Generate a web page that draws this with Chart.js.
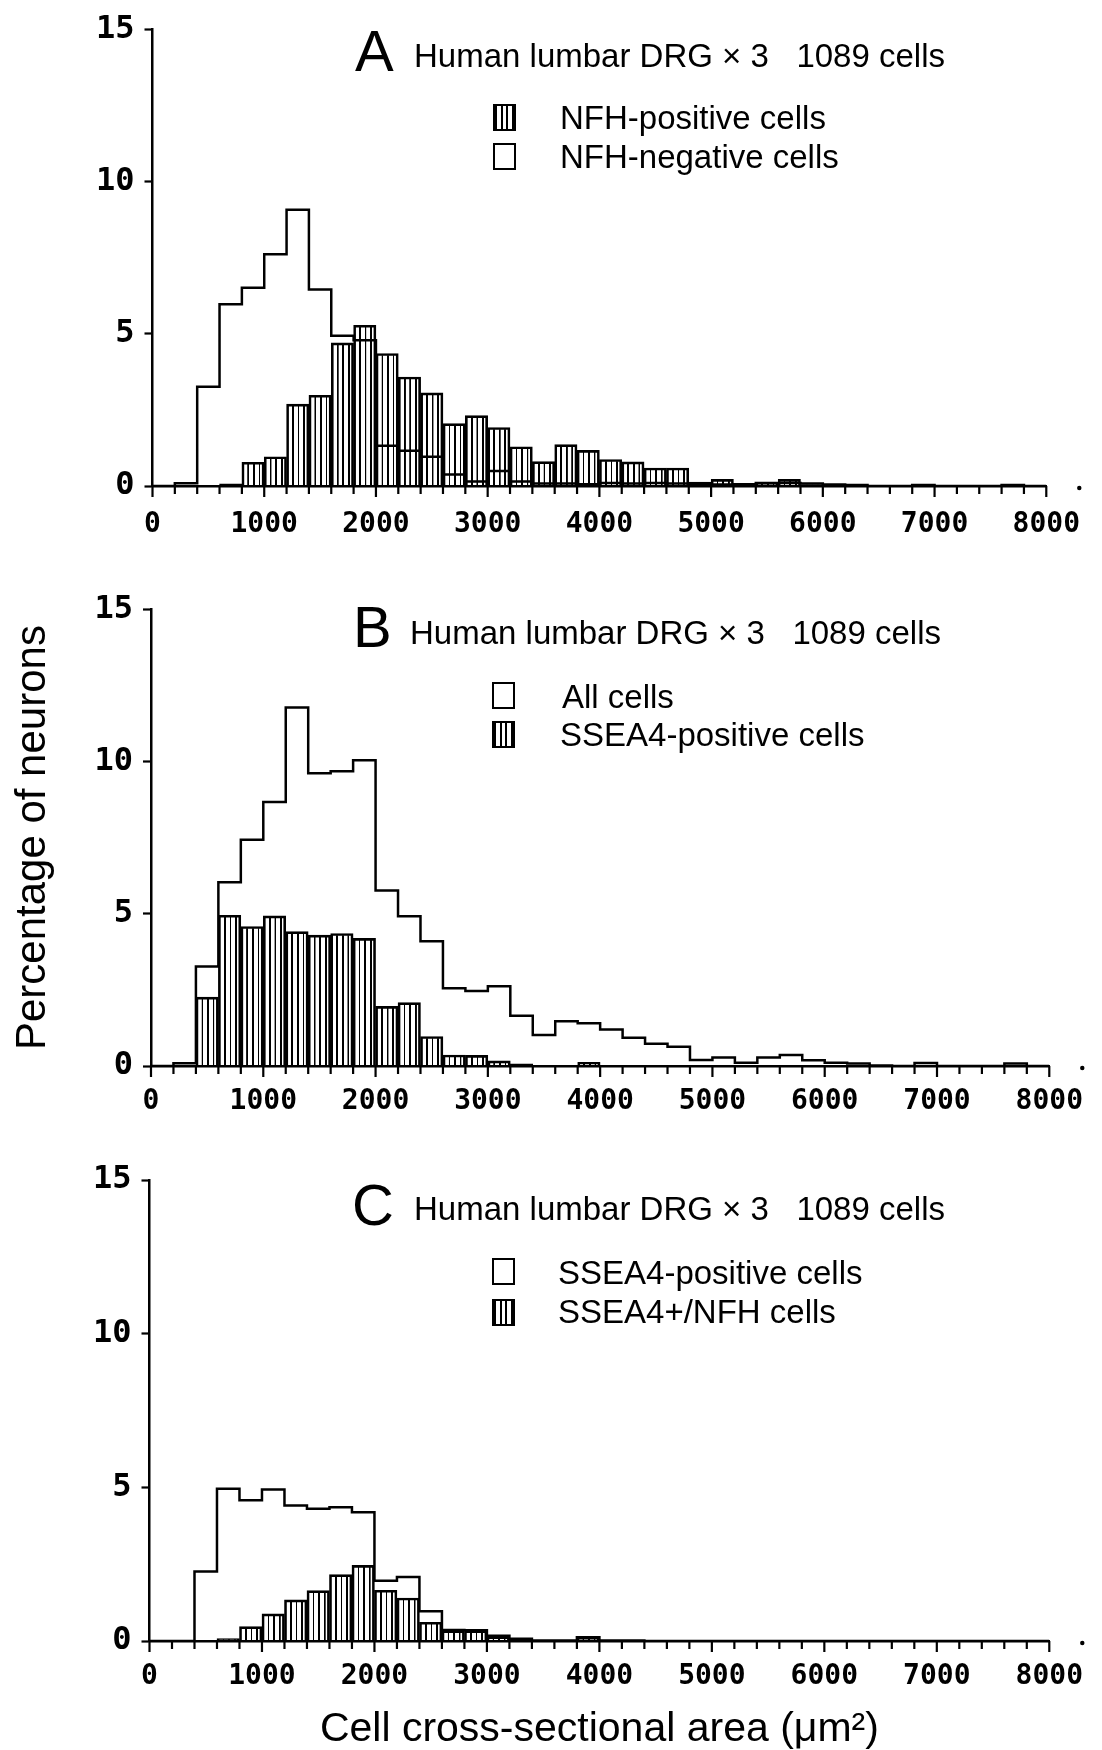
<!DOCTYPE html>
<html><head><meta charset="utf-8">
<script src="https://cdn.jsdelivr.net/npm/chart.js@4.4.1/dist/chart.umd.min.js"></script>
<style>
html,body{margin:0;padding:0;background:#fff;}
#page{position:relative;width:1102px;height:1750px;overflow:hidden;background:#fff;font-family:'Liberation Sans',Arial,sans-serif;color:#000;}
canvas{position:absolute;left:0;}
.t{position:absolute;line-height:1;white-space:pre;}
.big{font-size:58px;}
.head{font-size:33px;}
.leg{font-size:33px;}
.box{position:absolute;width:19px;height:23px;border:2px solid #000;background:#fff;}
.hb{background:repeating-linear-gradient(90deg,#000 0 2px,#fff 2px 5.6px);}
</style></head>
<body>
<div id="page">
  <canvas id="cA" width="1102" height="580" style="top:0px"></canvas>
  <canvas id="cB" width="1102" height="560" style="top:580px"></canvas>
  <canvas id="cC" width="1102" height="610" style="top:1140px"></canvas>

  <div class="t big" style="left:355px;top:22px">A</div>
  <div class="t head" style="left:414px;top:39px">Human lumbar DRG × 3   1089 cells</div>
  <div class="box hb" style="left:493px;top:104px"></div>
  <div class="t leg" style="left:560px;top:101px">NFH-positive cells</div>
  <div class="box" style="left:493px;top:143px"></div>
  <div class="t leg" style="left:560px;top:140px">NFH-negative cells</div>

  <div class="t big" style="left:353px;top:598px">B</div>
  <div class="t head" style="left:410px;top:616px">Human lumbar DRG × 3   1089 cells</div>
  <div class="box" style="left:492px;top:682px"></div>
  <div class="t leg" style="left:562px;top:680px">All cells</div>
  <div class="box hb" style="left:492px;top:721px"></div>
  <div class="t leg" style="left:560px;top:718px">SSEA4-positive cells</div>

  <div class="t big" style="left:352px;top:1176px">C</div>
  <div class="t head" style="left:414px;top:1192px">Human lumbar DRG × 3   1089 cells</div>
  <div class="box" style="left:492px;top:1258px"></div>
  <div class="t leg" style="left:558px;top:1256px">SSEA4-positive cells</div>
  <div class="box hb" style="left:492px;top:1299px"></div>
  <div class="t leg" style="left:558px;top:1295px">SSEA4+/NFH cells</div>
</div>
<script>
// ---- data (percentage of neurons per 200 µm² bin; bin start values) ----
const binEdges = [0,200,400,600,800,1000,1200,1400,1600,1800,
  2000,2200,2400,2600,2800,3000,3200,3400,3600,3800,
  4000,4200,4400,4600,4800,5000,5200,5400,5600,5800,
  6000,6200,6400,6600,6800,7000,7200,7400,7600,7800];
const xMax = 8000;
const xTickLabels = ['0','1000','2000','3000','4000','5000','6000','7000','8000'];
const yTicks = [0,5,10,15];

// Panel A
const nfhPositive = [0,0,0,0.07,0.78,0.96,2.69,2.98,4.70,5.28,
  4.35,3.58,3.06,2.05,2.31,1.92,1.29,0.80,1.36,1.17,
  0.87,0.79,0.59,0.59,0.13,0.22,0.05,0.11,0.22,0.05,
  0.03,0.03,0,0,0.05,0,0,0,0.05,0];
const nfhNegative = [0,0.09,3.26,5.97,6.51,7.61,9.07,6.45,4.93,4.79,
  1.32,1.16,0.96,0.38,0.15,0.49,0.15,0.08,0.08,0.06,
  0.10,0.08,0.10,0.08,0.06,0.05,0.06,0.10,0.10,0.08,
  0.05,0.03,0,0,0.03,0,0,0,0.03,0];
// Panel B
const allCells = [0,0.09,3.27,6.03,7.43,8.67,11.77,9.61,9.68,10.04,
  5.76,4.92,4.10,2.55,2.46,2.62,1.65,1.02,1.47,1.40,
  1.20,0.93,0.73,0.63,0.20,0.28,0.11,0.28,0.36,0.19,
  0.11,0.08,0.02,0,0.10,0,0,0,0.08,0];
const ssea4Positive = [0,0,2.26,4.95,4.58,4.93,4.41,4.30,4.35,4.19,
  1.96,2.08,0.97,0.36,0.35,0.17,0.07,0.02,0.02,0.12,
  0.02,0.02,0,0,0,0,0,0,0,0,
  0,0,0,0,0,0,0,0,0,0];
// Panel C
const ssea4NfhPositive = [0,0,0,0.08,0.47,0.88,1.34,1.64,2.16,2.46,
  1.65,1.40,0.61,0.34,0.34,0.14,0.05,0.02,0.02,0.10,
  0.02,0.01,0,0,0,0,0,0,0,0,
  0,0,0,0,0,0,0,0,0,0];

// ---- helpers ----
const binWidth = binEdges[1] - binEdges[0];
const stepPoints = vals => binEdges.map((e, i) => ({x: e, y: vals[i]})).concat([{x: xMax, y: 0}]);
const barPoints = vals => binEdges.map((e, i) => ({x: e + binWidth / 2, y: vals[i]}));
const monoFamily = "'DejaVu Sans Mono', 'Liberation Mono', monospace";
const xTickFont = {family: monoFamily, size: 28, weight: 'bold'};
const yTickFont = {family: monoFamily, size: 32, weight: 'bold'};

function hatchFill(context) {
  const chart = context.chart;
  if (!chart.chartArea || !chart.scales.x) return 'rgba(0,0,0,0)';
  if (!chart.$hatch) {
    const xs = chart.scales.x;
    const binPx = xs.getPixelForValue(binEdges[1]) - xs.getPixelForValue(binEdges[0]);
    const tile = document.createElement('canvas');
    tile.width = 40; tile.height = 4;
    const g = tile.getContext('2d');
    g.fillStyle = '#000';
    g.fillRect(0, 0, 12, 4);
    const pat = chart.ctx.createPattern(tile, 'repeat');
    const s = binPx / 4 / 40;
    pat.setTransform(new DOMMatrix([s, 0, 0, 1, xs.getPixelForValue(binEdges[0]), 0]));
    chart.$hatch = pat;
  }
  return chart.$hatch;
}

const tickMarks = {
  id: 'tickMarks',
  afterDraw(chart) {
    const xs = chart.scales.x, ctx = chart.ctx, y0 = chart.chartArea.bottom;
    ctx.save();
    ctx.strokeStyle = '#000';
    ctx.fillStyle = '#000';
    ctx.lineWidth = 2.2;
    xs.ticks.forEach(t => {
      const px = xs.getPixelForValue(t.value);
      const len = (t.value % 1000 === 0) ? 11 : 8;
      ctx.beginPath();
      ctx.moveTo(px, y0);
      ctx.lineTo(px, y0 + len);
      ctx.stroke();
    });
    ctx.beginPath();
    ctx.arc(xs.right + 33, y0 + 2, 2.2, 0, Math.PI * 2);
    ctx.fill();
    ctx.restore();
  }
};

function makeChart(id, cfg) {
  const xScale = {
    type: 'linear', min: 0, max: xMax, offset: false,
    grid: {display: true, drawOnChartArea: false, drawTicks: false, offset: false},
    border: {display: true, color: '#000', width: 2.5},
    afterBuildTicks: s => { s.ticks = binEdges.concat([xMax]).map(v => ({value: v})); },
    ticks: {
      autoSkip: false, maxRotation: 0, minRotation: 0, padding: cfg.xPad, color: '#000', font: xTickFont,
      callback: v => (v % 1000 === 0 ? xTickLabels[v / 1000] : '')
    },
    afterFit: s => { s.height = cfg.xH; }
  };
  if (cfg.xTitle) {
    xScale.title = {display: true, text: cfg.xTitle, color: '#000',
      font: {family: "'Liberation Sans', Arial, sans-serif", size: 41, lineHeight: 1}, padding: {top: 0, bottom: 0}};
  }
  const yScale = {
    min: 0, max: 15,
    grid: {display: true, drawOnChartArea: false, drawTicks: true, tickLength: 8, tickWidth: 2.2, tickColor: '#000'},
    border: {display: true, color: '#000', width: 2.5},
    afterBuildTicks: s => { s.ticks = yTicks.map(v => ({value: v})); },
    ticks: {padding: 10, color: '#000', font: yTickFont},
    afterFit: s => { s.width = cfg.yW; }
  };
  if (cfg.yTitle) {
    yScale.title = {display: true, text: cfg.yTitle, color: '#000',
      font: {family: "'Liberation Sans', Arial, sans-serif", size: 42, lineHeight: 1}, padding: {top: 12, bottom: 0}};
  }
  return new Chart(document.getElementById(id), {
    type: 'bar',
    data: {
      datasets: [
        {type: 'line', label: cfg.openLabel, data: stepPoints(cfg.open), stepped: true,
         borderColor: '#000', borderWidth: 2.5, pointRadius: 0, fill: false, tension: 0, order: 0},
        {type: 'bar', label: cfg.hatchLabel, data: barPoints(cfg.hatched),
         backgroundColor: hatchFill, borderColor: '#000', borderWidth: 2,
         barPercentage: 1, categoryPercentage: 1, order: 1}
      ]
    },
    options: {
      responsive: false, animation: false, devicePixelRatio: 1, events: [],
      layout: {padding: {top: cfg.padTop, right: cfg.padRight, left: 0, bottom: 0}},
      plugins: {legend: {display: false}, tooltip: {enabled: false}},
      scales: {x: xScale, y: yScale}
    },
    plugins: [tickMarks]
  });
}

makeChart('cA', {open: nfhNegative, openLabel: 'NFH-negative cells', hatched: nfhPositive, hatchLabel: 'NFH-positive cells',
  padTop: 28, padRight: 44, yW: 152.5, xH: 94, xPad: 22});
makeChart('cB', {open: allCells, openLabel: 'All cells', hatched: ssea4Positive, hatchLabel: 'SSEA4-positive cells',
  padTop: 24, padRight: 44, yW: 151, xH: 74, xPad: 19, yTitle: 'Percentage of neurons'});
makeChart('cC', {open: ssea4Positive, openLabel: 'SSEA4-positive cells', hatched: ssea4NfhPositive, hatchLabel: 'SSEA4+/NFH cells',
  padTop: 40, padRight: 45, yW: 149.5, xH: 109, xPad: 19, xTitle: 'Cell cross-sectional area (μm²)'});
</script>
</body></html>
